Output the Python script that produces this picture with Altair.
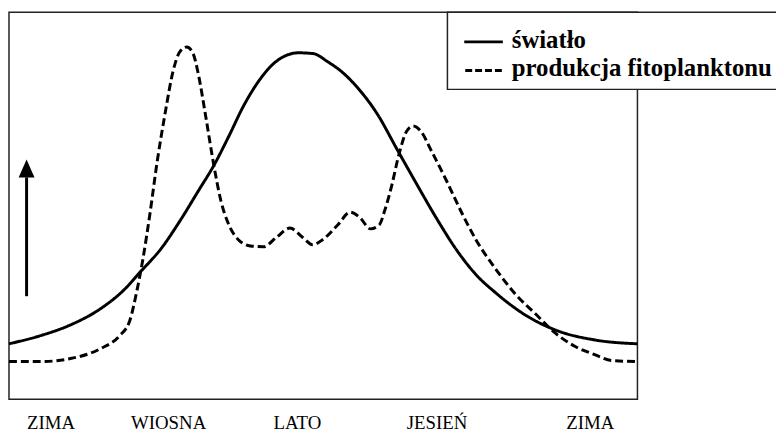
import altair as alt
import pandas as pd

# ---- data (x: position within the year, 0-100; y: relative level, 0-100) ----
light_x = [0, 5.0, 9.8, 14.5, 18.4, 20.8, 24.3, 27.1, 30.2, 32.6, 35.0, 37.3, 39.7, 42.1, 44.4, 46.0,
           48.4, 50.7, 53.1, 55.4, 58.6, 61.7, 64.9, 68.0, 71.2, 74.3, 77.5, 82.2, 86.9, 93.2, 100]
light_y = [14.3, 16.4, 19.2, 23.3, 28.4, 32.7, 39.1, 45.8, 54.0, 60.4, 68.0, 75.7, 82.1, 86.7, 89.0, 89.5,
           89.3, 87.2, 84.4, 80.6, 73.7, 64.7, 55.5, 46.8, 38.6, 32.2, 27.4, 21.7, 17.9, 15.3, 14.3]

phyto_x = [0, 5.0, 9.8, 14.5, 17.6, 19.2, 20.3, 21.3, 22.4, 23.6, 24.9, 26.1, 27.2, 28.3, 29.3,
           30.2, 31.3, 32.6, 33.7, 35.0, 36.5, 38.4, 40.5, 42.5, 44.7, 46.8, 48.3, 49.9, 52.3,
           54.3, 55.9, 57.5, 58.9, 59.8, 60.9, 62.0, 63.3, 64.3, 65.5, 67.2, 69.6, 72.0, 74.3,
           77.5, 80.6, 83.8, 86.9, 90.1, 93.2, 95.9, 100]
phyto_y = [9.7, 9.7, 10.5, 13.0, 16.4, 20.2, 27.6, 36.1, 47.6, 61.6, 74.4, 84.7, 89.8, 91.0, 89.3,
           83.4, 73.1, 60.4, 51.4, 45.0, 41.2, 39.6, 39.4, 41.7, 44.2, 41.7, 39.9, 41.2, 45.0,
           48.3, 46.8, 44.0, 45.0, 48.8, 55.2, 62.9, 69.3, 70.6, 69.3, 64.2, 56.5, 48.3, 41.2,
           33.5, 27.1, 22.0, 17.1, 13.6, 11.5, 10.0, 9.7]

season_labels = ["ZIMA", "WIOSNA", "LATO", "JESIEŃ", "ZIMA"]
season_x = [6.7, 25.4, 45.9, 68.1, 92.5]

legend_labels = ["światło", "produkcja fitoplanktonu"]

arrow_x = [2.8]
arrow_y = [26.6]
arrow_y2 = [57.3]
arrow_head_y = [59.6]

# ---- chart ----
W, H = 635, 391
SERIF = "'Liberation Serif', 'Times New Roman', Times, 'DejaVu Serif', serif"

curves = pd.DataFrame({
    "x": light_x + phyto_x,
    "y": light_y + phyto_y,
    "series": [legend_labels[0]] * len(light_x) + [legend_labels[1]] * len(phyto_x),
    "order": list(range(len(light_x))) + list(range(len(phyto_x))),
})

xs = alt.Scale(domain=[0, 100], nice=False, zero=False)
ys = alt.Scale(domain=[0, 100], nice=False, zero=False)

lines = alt.Chart(curves).mark_line(strokeWidth=3, interpolate="monotone", color="black").encode(
    x=alt.X("x:Q", scale=xs, axis=None),
    y=alt.Y("y:Q", scale=ys, axis=None),
    strokeDash=alt.StrokeDash("series:N", scale=alt.Scale(domain=legend_labels, range=[[1, 0], [8, 4]]),
                              legend=None),
    order="order:Q",
)

arrow_df = pd.DataFrame({"x": arrow_x, "y": arrow_y, "y2": arrow_y2, "yh": arrow_head_y})
arrow_line = alt.Chart(arrow_df).mark_rule(strokeWidth=3, color="black").encode(
    x=alt.X("x:Q", scale=xs, axis=None),
    y=alt.Y("y:Q", scale=ys, axis=None),
    y2="y2:Q",
)
arrow_head = alt.Chart(arrow_df).mark_point(
    shape="M-0.89,1L0,-1L0.89,1Z", size=324, filled=True, color="black", opacity=1, strokeWidth=0
).encode(
    x=alt.X("x:Q", scale=xs, axis=None),
    y=alt.Y("yh:Q", scale=ys, axis=None),
)

season_df = pd.DataFrame({"x": season_x, "label": season_labels})
seasons = alt.Chart(season_df).mark_text(
    font=SERIF, fontSize=19, baseline="alphabetic", align="center", color="black"
).encode(
    x=alt.X("x:Q", scale=xs, axis=None),
    y=alt.value(H + 30),
    text="label:N",
)

one = pd.DataFrame({"a": [0]})
legend_box = alt.Chart(one).mark_rect(fill="white", stroke="#222", strokeWidth=1.5).encode(
    x=alt.value(443), x2=alt.value(820), y=alt.value(0), y2=alt.value(78)
)
leg_solid = alt.Chart(one).mark_rule(strokeWidth=3, color="black").encode(
    x=alt.value(460), x2=alt.value(499), y=alt.value(30)
)
leg_dash = alt.Chart(one).mark_rule(strokeWidth=3, color="black", strokeDash=[7, 3]).encode(
    x=alt.value(461), x2=alt.value(498), y=alt.value(59)
)
leg_t1 = alt.Chart(one).mark_text(
    font=SERIF, fontWeight="bold", fontSize=25, align="left", baseline="alphabetic", color="black"
).encode(x=alt.value(508), y=alt.value(36), text=alt.value(legend_labels[0]))
leg_t2 = alt.Chart(one).mark_text(
    font=SERIF, fontWeight="bold", fontSize=25, align="left", baseline="alphabetic", color="black"
).encode(x=alt.value(508), y=alt.value(64), text=alt.value(legend_labels[1]))

chart = alt.layer(
    lines, arrow_line, arrow_head, seasons, legend_box, leg_solid, leg_dash, leg_t1, leg_t2
).properties(
    width=W, height=H,
    autosize=alt.AutoSizeParams(type="none"),
    padding={"left": 1, "top": 2, "right": 140, "bottom": 33},
).configure_view(stroke="#222", strokeWidth=1.5)

chart.save("out.html", embed_options={"renderer": "svg", "actions": False})
